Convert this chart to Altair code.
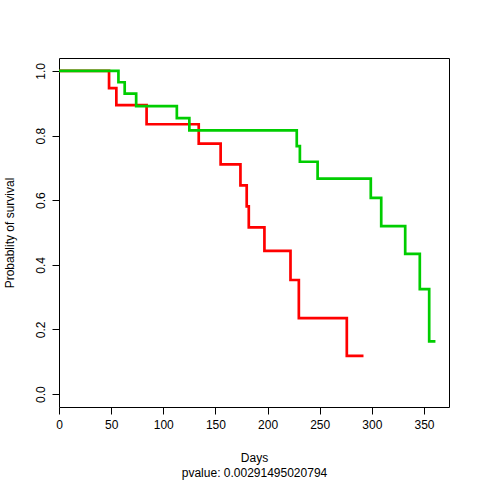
import altair as alt
import pandas as pd

# Kaplan-Meier step curves
red_days = [0, 48, 55, 84, 134, 155, 174, 180, 182, 197, 222, 230, 276, 292]
red_surv = [1.0, 0.947, 0.894, 0.835, 0.775, 0.711, 0.646, 0.581, 0.516, 0.443, 0.353, 0.235, 0.118, 0.118]
green_days = [0, 57, 63, 74, 113, 125, 228, 231, 248, 299, 309, 332, 346, 355, 361]
green_surv = [1.0, 0.965, 0.930, 0.891, 0.854, 0.816, 0.767, 0.719, 0.667, 0.607, 0.520, 0.434, 0.325, 0.163, 0.163]
x_ticks = [0, 50, 100, 150, 200, 250, 300, 350]
y_ticks = [0.0, 0.2, 0.4, 0.6, 0.8, 1.0]

df = pd.concat([
    pd.DataFrame({"day": red_days, "surv": red_surv, "grp": "A", "ord": 0}),
    pd.DataFrame({"day": green_days, "surv": green_surv, "grp": "B", "ord": 1}),
])

W, H = 390, 349
FONT = "Liberation Sans"

x = alt.X("day:Q", scale=alt.Scale(domain=[0, 374], nice=False, zero=False),
          axis=alt.Axis(values=x_ticks, title=["Days", "pvalue: 0.00291495020794"],
                        grid=False, domain=False, tickSize=7, tickColor="black",
                        labelPadding=5, labelFontSize=12, labelColor="black", labelFont=FONT,
                        labelFlush=False,
                        titleFont=FONT, titleFontSize=12, titleFontWeight="normal", titleColor="black",
                        titleLineHeight=15, titleBaseline="alphabetic", titleAnchor="middle",
                        titleY=54, titleX=W / 2, titleAlign="center"))
y = alt.Y("surv:Q", scale=alt.Scale(domain=[-0.04, 1.04], nice=False, zero=False),
          axis=alt.Axis(values=y_ticks, format=".1f", title="Probablity of survival",
                        grid=False, domain=False, tickSize=7, tickColor="black",
                        labelAngle=270, labelAlign="center", labelBaseline="bottom",
                        labelFlush=False,
                        labelPadding=5, labelFontSize=12, labelColor="black", labelFont=FONT,
                        titleFont=FONT, titleFontSize=12, titleFontWeight="normal", titleColor="black",
                        titleAngle=270, titleX=-50, titleY=H / 2, titleAlign="center",
                        titleBaseline="middle"))

chart = alt.Chart(df).mark_line(interpolate="step-after", strokeWidth=2.7).encode(
    x=x, y=y,
    color=alt.Color("grp:N", scale=alt.Scale(domain=["A", "B"], range=["#FF0000", "#00CD00"]), legend=None),
    order=alt.Order("ord:Q"),
    detail="grp:N",
).properties(
    width=W, height=H,
    autosize=alt.AutoSizeParams(type="none"),
    padding={"left": 59, "top": 58, "right": 31, "bottom": 73},
    background="white",
).configure_view(stroke="black", strokeWidth=1)

chart.save("out.html", embed_options={"renderer": "svg", "actions": False})
